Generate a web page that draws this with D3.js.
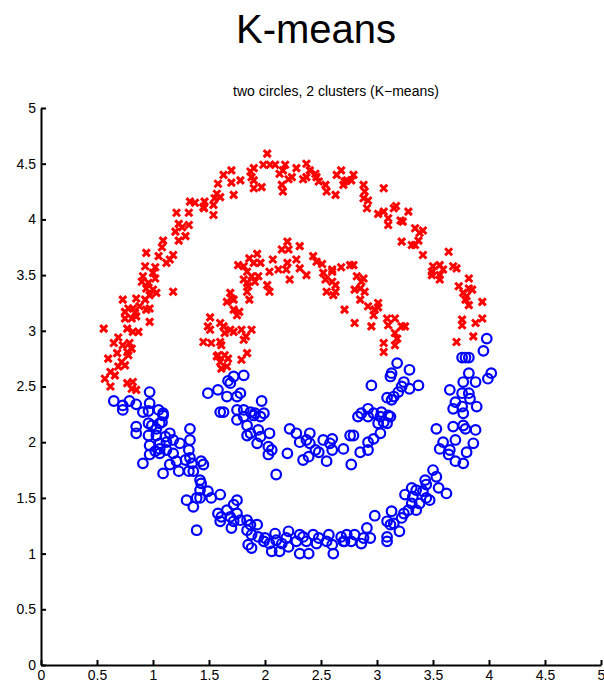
<!DOCTYPE html>
<html>
<head>
<meta charset="utf-8">
<script src="https://cdn.jsdelivr.net/npm/d3@7"></script>
<style>
  body { margin: 0; background: #fff; }
  svg { display: block; font-family: "Liberation Sans", Arial, Helvetica, sans-serif; }
</style>
</head>
<body>
<svg id="chart" width="604" height="686"></svg>
<script>
// cluster 1 (red x)
var clusterRed = [
  [1.33,4.16],[1.375,4.15],[1.46,4.16],[1.455,4.10],[1.21,4.06],[1.32,4.06],[1.23,3.96],[1.32,3.95],[1.20,3.89],[1.26,3.93],
  [1.29,3.85],[1.09,3.81],[1.23,3.81],[1.08,3.75],[0.94,3.70],[1.05,3.67],[1.18,3.68],[1.15,3.64],[1.12,3.61],[0.93,3.58],
  [1.02,3.57],[0.91,3.49],[1.00,3.52],
  [2.02,4.59],[1.985,4.49],[2.045,4.49],[2.09,4.49],[2.18,4.49],[2.37,4.50],[1.90,4.46],[1.87,4.43],[1.70,4.44],[1.63,4.40],
  [2.13,4.41],[2.16,4.44],[2.28,4.46],[2.40,4.44],[2.45,4.41],[2.46,4.38],[1.88,4.38],[1.90,4.35],[2.24,4.38],[2.21,4.36],
  [2.34,4.36],[2.37,4.38],[1.78,4.35],[1.70,4.33],[1.58,4.32],[2.64,4.40],[2.68,4.44],[2.73,4.35],[2.70,4.31],[2.48,4.34],
  [2.54,4.31],[1.90,4.28],[1.97,4.29],[2.15,4.31],[2.16,4.25],[2.55,4.25],[2.63,4.22],[1.57,4.23],[1.55,4.19],[1.60,4.20],
  [1.72,4.22],[1.54,4.13],[1.45,4.11],[1.54,4.04],
  [2.79,4.40],[2.77,4.35],[2.71,4.34],[2.88,4.31],[2.89,4.25],[2.92,4.17],[2.88,4.19],[2.91,4.10],[3.06,4.28],[3.01,4.05],
  [3.06,4.07],[3.10,4.01],[3.10,3.95],[3.15,4.10],[3.17,4.12],[3.21,3.99],[3.23,3.98],[3.28,4.07],[3.34,3.92],[3.41,3.90],
  [3.38,3.88],[3.37,3.81],[3.22,3.80],[3.31,3.77],[3.34,3.77],[3.41,3.68],[3.64,3.71],[3.50,3.58],[3.56,3.59],[3.59,3.55],
  [3.49,3.53],[3.56,3.50],[3.68,3.58],[3.71,3.56],[3.82,3.47],[2.79,3.59],[2.82,3.49],[2.88,3.47],
  [0.90,3.44],[0.96,3.43],[1.02,3.47],[0.94,3.38],[1.00,3.37],[0.97,3.32],[1.03,3.34],[1.18,3.35],[0.93,3.28],[0.85,3.29],
  [0.73,3.28],[0.88,3.22],[0.82,3.20],[0.78,3.20],[0.75,3.17],[0.84,3.16],[0.94,3.19],[0.97,3.20],[0.75,3.11],[0.81,3.11],
  [0.85,3.13],[0.97,3.08],[0.56,3.02],[0.77,3.02],[0.82,2.99],[0.87,2.99],[0.69,2.94],[0.65,2.89],[0.73,2.87],[0.79,2.89],
  [0.81,2.84],[0.77,2.81],[0.78,2.78],[0.68,2.80],[0.60,2.75],[0.72,2.72],[0.69,2.68],[0.75,2.69],[0.62,2.63],[0.57,2.57],
  [0.66,2.60],[0.62,2.50],[0.77,2.53],[0.82,2.54],[0.81,2.48],[0.85,2.47],
  [2.20,3.80],[2.15,3.73],[2.21,3.73],[2.31,3.76],[1.93,3.69],[1.86,3.65],[2.07,3.64],[1.96,3.61],[1.90,3.61],[1.76,3.59],
  [1.81,3.58],[2.20,3.61],[2.28,3.64],[2.43,3.67],[2.46,3.62],[2.51,3.60],[2.68,3.57],[2.60,3.55],[2.76,3.59],[2.04,3.53],
  [2.12,3.55],[2.19,3.55],[2.31,3.56],[2.37,3.50],[1.84,3.53],[1.88,3.49],[1.94,3.49],[1.91,3.44],[1.84,3.43],[1.81,3.46],
  [2.22,3.46],[2.52,3.52],[2.60,3.53],[2.54,3.46],[2.60,3.44],[2.63,3.41],[2.55,3.35],[2.63,3.35],[2.61,3.32],[2.02,3.41],
  [2.04,3.35],[1.85,3.40],[1.84,3.35],[1.86,3.28],[2.71,3.19],[1.69,3.34],[1.72,3.28],[1.66,3.26],[1.70,3.29],[1.72,3.19],
  [1.77,3.17],[1.75,3.14],[1.51,3.12],[1.49,3.04],[1.51,3.01],[1.60,3.07],[1.63,3.04],[1.69,3.01],[1.64,2.98],[1.72,2.99],
  [1.79,3.01],[1.88,3.01],[1.83,2.95],[1.81,2.92],[1.45,2.90],[1.52,2.89],[1.60,2.90],[1.61,2.87],[1.58,2.78],[1.64,2.78],
  [1.67,2.75],[1.60,2.72],[1.57,2.77],[1.66,2.68],[1.61,2.66],[1.84,2.80],[1.79,2.74],
  [2.86,3.44],[2.85,3.38],[2.89,3.35],[2.80,3.37],[2.85,3.28],[2.92,3.22],[2.98,3.19],[3.01,3.25],[3.01,3.21],[2.97,3.14],
  [2.80,3.07],[2.95,3.04],[3.09,3.11],[3.10,3.05],[3.16,3.11],[3.22,3.04],[3.25,3.04],[3.16,2.98],[3.18,2.93],[3.06,2.89],
  [3.06,2.81],[3.16,2.87],
  [3.49,3.50],[3.56,3.46],[3.73,3.40],[3.82,3.38],[3.85,3.37],[3.77,3.34],[3.80,3.31],[3.82,3.23],[3.79,3.28],[3.94,3.26],
  [3.76,3.10],[3.76,3.05],[3.88,3.07],[3.94,3.11],[3.86,2.95],[3.71,2.90]
];

// cluster 2 (blue o)
var clusterBlue = [
  [0.97,2.45],[0.65,2.37],[0.73,2.33],[0.79,2.37],[0.85,2.34],[0.97,2.35],[0.91,2.27],[0.96,2.28],[1.05,2.29],[1.09,2.26],
  [1.81,2.60],[1.72,2.59],[1.67,2.55],[1.69,2.53],[1.58,2.47],[1.49,2.44],[1.66,2.41],[1.75,2.41],[1.78,2.44],[1.97,2.37],
  [1.60,2.27],[1.63,2.27],[1.75,2.29],[1.81,2.29],[1.87,2.27],[1.99,2.26],[1.91,2.26],
  [3.98,2.93],[3.95,2.82],[3.76,2.76],[3.79,2.76],[3.82,2.76],[4.02,2.62],[3.99,2.57],[3.82,2.62],[3.77,2.54],[3.88,2.54],
  [3.65,2.47],[3.76,2.44],[3.82,2.44],[3.83,2.39],[3.70,2.36],[3.68,2.30],[3.76,2.32],[3.89,2.32],[3.77,2.26],
  [3.18,2.71],[3.13,2.62],[3.12,2.59],[3.29,2.65],[3.24,2.54],[3.22,2.50],[3.37,2.51],[3.29,2.48],[3.19,2.45],[3.09,2.40],
  [3.13,2.38],[3.15,2.41],[2.95,2.51],[2.92,2.30],[2.86,2.26],[2.97,2.26],[3.04,2.27],[3.10,2.24],[2.83,2.23],
  [2.92,2.23],[3.03,2.23],[3.12,2.23],[3.06,2.18],[3.01,2.17],[3.09,2.17],[2.79,2.06],[3.03,2.08],[2.97,2.03],[2.92,2.00],
  [2.85,1.91],[2.92,1.93],[2.70,1.94],[2.77,1.80],
  [3.53,2.12],[3.68,2.14],[3.77,2.15],[3.79,2.12],[3.88,2.11],[3.59,2.00],[3.70,2.02],[3.86,1.99],[3.56,1.94],[3.65,1.93],
  [3.64,1.89],[3.80,1.91],[3.70,1.83],[3.77,1.81],
  [3.50,1.75],[3.53,1.69],[3.43,1.66],[3.44,1.62],[3.55,1.59],[3.62,1.54],[3.31,1.59],[3.35,1.57],[3.41,1.56],[3.25,1.53],
  [3.32,1.51],[3.44,1.50],[3.47,1.48],[3.38,1.45],[3.31,1.45],[3.28,1.39],[3.35,1.39],[3.24,1.36],[3.13,1.38],[2.98,1.34],
  [3.22,1.32],[3.09,1.29],[3.12,1.26],[3.15,1.27],[3.20,1.20],[2.91,1.23],[2.94,1.14],[2.88,1.14],[2.86,1.09],[3.09,1.15],
  [3.09,1.11],[2.73,1.17],[2.80,1.17],[2.70,1.11],[2.77,1.11],
  [1.75,2.20],[1.81,2.23],[1.90,2.24],[1.96,2.23],[1.84,2.15],[1.87,2.08],[1.84,2.06],[1.94,2.11],[1.96,2.05],[2.04,2.08],
  [1.93,1.99],[2.03,1.96],[2.06,1.93],[2.03,1.89],[2.10,1.71],[2.20,1.90],[2.22,2.12],[2.28,2.08],[2.31,2.00],[2.40,2.08],
  [2.37,2.02],[2.40,1.99],[2.34,1.84],[2.39,1.87],[2.45,1.93],[2.48,1.91],[2.52,2.02],[2.60,2.03],[2.58,1.99],[2.60,1.93],
  [2.55,1.83],[2.76,2.06],
  [1.43,1.83],[1.45,1.80],[1.42,1.66],[1.43,1.63],[1.49,1.56],[1.52,1.50],[1.60,1.53],[1.42,1.50],
  [1.75,1.48],[1.72,1.44],[1.58,1.36],[1.61,1.33],[1.66,1.39],[1.69,1.33],[1.75,1.36],[1.60,1.29],[1.72,1.29],[1.78,1.30],
  [1.70,1.23],[1.84,1.30],[1.87,1.26],[1.93,1.26],[1.84,1.21],[1.88,1.17],[1.94,1.15],[1.85,1.08],[1.88,1.05],[2.00,1.14],
  [1.99,1.11],[2.04,1.09],[2.06,1.02],[2.09,1.18],[2.10,1.12],[2.21,1.20],[2.19,1.14],[2.15,1.09],[2.21,1.06],[2.13,1.02],
  [2.31,1.17],[2.28,1.11],[2.34,1.15],[2.37,1.11],[2.31,1.00],[2.39,1.00],[2.43,1.17],[2.48,1.14],[2.46,1.09],[2.57,1.17],
  [2.55,1.11],[2.61,1.00],[2.60,1.08],[2.68,1.15],[2.71,1.11],
  [0.73,2.29],[1.08,2.18],[1.09,2.24],[0.85,2.14],[0.85,2.08],[0.96,2.17],[0.99,2.15],[1.03,2.12],[1.06,2.17],[0.96,2.06],
  [1.03,2.06],[1.11,2.05],[1.15,2.08],[0.97,1.97],[1.06,1.99],[1.12,2.00],[1.18,2.02],[1.24,1.99],[1.33,2.12],[1.33,2.02],
  [1.32,1.93],[1.18,1.90],[1.12,1.93],[1.06,1.90],[0.97,1.89],[0.91,1.81],[1.09,1.72],[1.15,1.80],[1.21,1.83],[1.23,1.74],
  [1.29,1.84],[1.33,1.86],[1.35,1.81],[1.32,1.74],[1.36,1.74],[1.42,1.57],[1.39,1.50],[1.30,1.48],[1.36,1.42],[1.39,1.21],
  [1.06,1.94],[1.02,1.92]
];

var tickValues = [0, 0.5, 1, 1.5, 2, 2.5, 3, 3.5, 4, 4.5, 5];
var title = "K-means";
var subtitle = "two circles, 2 clusters (K\u2212means)";

var svg = d3.select("#chart");

//scales
var x = d3.scaleLinear().domain([0, 5]).range([41, 601]);
var y = d3.scaleLinear().domain([0, 5]).range([665, 108]);

//titles
svg.append("text")
    .attr("x", 316)
    .attr("y", 43)
    .attr("text-anchor", "middle")
    .style("font-size", "40px")
    .text(title);

svg.append("text")
    .attr("x", 336)
    .attr("y", 96)
    .attr("text-anchor", "middle")
    .style("font-size", "14px")
    .text(subtitle);

//axes, ticks pointing inward like matlab
var xAxis = d3.axisBottom(x)
    .tickValues(tickValues)
    .tickFormat(d3.format(""))
    .tickSizeInner(-5)
    .tickSizeOuter(0)
    .tickPadding(5);

var yAxis = d3.axisLeft(y)
    .tickValues(tickValues)
    .tickFormat(d3.format(""))
    .tickSizeInner(-5)
    .tickSizeOuter(0)
    .tickPadding(5);

var gx = svg.append("g")
    .attr("transform", "translate(0," + y(0) + ")")
    .call(xAxis);

var gy = svg.append("g")
    .attr("transform", "translate(" + x(0) + ",0)")
    .call(yAxis);

[gx, gy].forEach(function(g) {
    g.select(".domain").attr("stroke", "#000").attr("stroke-width", 2);
    g.selectAll(".tick line").attr("stroke", "#000").attr("stroke-width", 2);
    g.selectAll(".tick text")
        .attr("fill", "#000")
        .style("font-size", "14px")
        .style("font-family", "'Liberation Sans', Arial, Helvetica, sans-serif");
});

//red x markers
var s = 3.5;
var reds = svg.append("g").attr("stroke", "#ff0000").attr("stroke-width", 3).attr("fill", "none");
reds.selectAll("path")
    .data(clusterRed)
    .enter()
    .append("path")
    .attr("d", function(d) {
        var cx = x(d[0]), cy = y(d[1]);
        return "M" + (cx - s) + "," + (cy - s) + "L" + (cx + s) + "," + (cy + s) +
            "M" + (cx - s) + "," + (cy + s) + "L" + (cx + s) + "," + (cy - s);
    });

//blue circles
svg.append("g")
    .selectAll("circle")
    .data(clusterBlue)
    .enter()
    .append("circle")
    .attr("cx", function(d) { return x(d[0]); })
    .attr("cy", function(d) { return y(d[1]); })
    .attr("r", 4.8)
    .attr("fill", "none")
    .attr("stroke", "#0000ff")
    .attr("stroke-width", 2.2);
</script>
</body>
</html>
